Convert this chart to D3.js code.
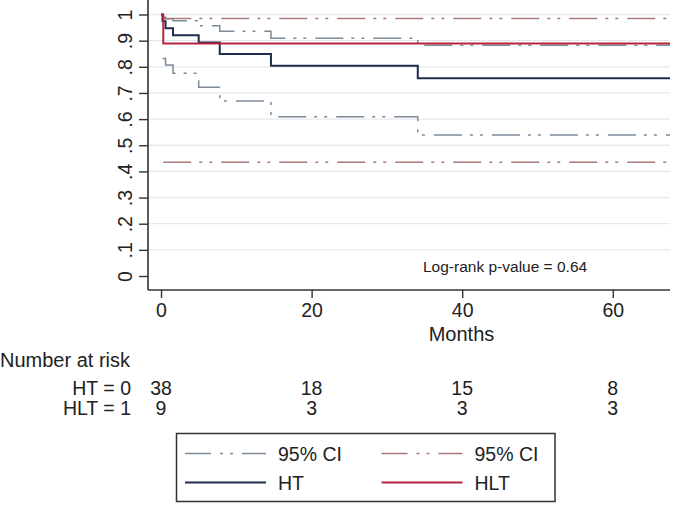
<!DOCTYPE html>
<html>
<head>
<meta charset="utf-8">
<script src="https://cdn.jsdelivr.net/npm/d3@7"></script>
<style>
html,body{margin:0;padding:0;background:#fff;}
svg{display:block;font-family:"Liberation Sans",Arial,Helvetica,sans-serif;}
</style>
</head>
<body>
<svg id="chart" width="677" height="507"></svg>
<script>
// ---- data ----
const htTimes   = [0, 0.2, 0.6, 1.6, 5.0, 7.8, 14.6, 34.1, 67.6];
const htSurv    = [1, 0.974, 0.947, 0.921, 0.893, 0.849, 0.804, 0.756, 0.756];
const htCiTimes = [0.2, 0.6, 1.6, 5.0, 7.8, 14.6, 34.1, 67.6];
const htUpper   = [0.990, 0.984, 0.976, 0.957, 0.936, 0.909, 0.882, 0.882];
const htLower   = [0.832, 0.807, 0.775, 0.722, 0.669, 0.609, 0.539, 0.539];

const hltTimes   = [0, 0.3, 67.6];
const hltSurv    = [1, 0.889, 0.889];
const hltCiTimes = [0.3, 67.6];
const hltUpper   = [0.985, 0.985];
const hltLower   = [0.435, 0.435];

const xTicks = [0, 20, 40, 60];
const yTicks = [0, 0.1, 0.2, 0.3, 0.4, 0.5, 0.6, 0.7, 0.8, 0.9, 1];
const yTickLabels = ["0", ".1", ".2", ".3", ".4", ".5", ".6", ".7", ".8", ".9", "1"];
const riskGroups = ["HT = 0", "HLT = 1"];
const riskHT  = [38, 18, 15, 8];
const riskHLT = [9, 3, 3, 3];
const legendLabels = ["95% CI", "95% CI", "HT", "HLT"];
const pValueText = "Log-rank p-value = 0.64";

// ---- layout ----
const svg = d3.select("#chart");
const pLeft = 148, pRight = 670, pTop = 0, pBottom = 290;
const x = d3.scaleLinear().domain([-1.73, 67.6]).range([pLeft, pRight]);
const y = d3.scaleLinear().domain([-0.0535, 1.0555]).range([pBottom, pTop]);

const colHT = "#1d2d4d", colHLT = "#b8243c", colHTci = "#7b8a99", colHLTci = "#a97a7c";
const dash = "28,8,3,7,3,9";

// gridlines
svg.append("g").selectAll("line").data(yTicks.filter(d => d > 0)).join("line")
  .attr("x1", pLeft).attr("x2", pRight)
  .attr("y1", d => y(d)).attr("y2", d => y(d))
  .attr("stroke", "#e6e9ec").attr("stroke-width", 1.3);

// axes
const yAxis = d3.axisLeft(y).tickValues(yTicks).tickSize(9).tickFormat((d, i) => yTickLabels[i]);
const gy = svg.append("g").attr("transform", `translate(${pLeft},0)`).call(yAxis);
gy.select(".domain").attr("d", `M0,${pTop}V${pBottom}`).attr("stroke", "#333").attr("stroke-width", 1.6);
gy.selectAll(".tick line").attr("stroke", "#333").attr("stroke-width", 1.4);
gy.selectAll(".tick text").attr("font-size", 19.5).attr("fill", "#222")
  .attr("text-anchor", "middle").attr("x", null).attr("dy", null)
  .attr("transform", "translate(-16,0) rotate(-90)");

const xAxis = d3.axisBottom(x).tickValues(xTicks).tickSize(8).tickFormat(d3.format("d"));
const gx = svg.append("g").attr("transform", `translate(0,${pBottom})`).call(xAxis);
gx.select(".domain").attr("d", `M${pLeft},0H${pRight}`).attr("stroke", "#333").attr("stroke-width", 1.6);
gx.selectAll(".tick line").attr("stroke", "#333").attr("stroke-width", 1.4);
gx.selectAll(".tick text").attr("font-size", 19.5).attr("fill", "#222").attr("y", 13).attr("dy", "0.71em");

// lines
const step = d3.line().x(d => x(d[0])).y(d => y(d[1])).curve(d3.curveStepAfter);
const zip = (a, b) => a.map((t, i) => [t, b[i]]);
function draw(data, color, width, dashed) {
  const p = svg.append("path").datum(data).attr("d", step)
    .attr("fill", "none").attr("stroke", color).attr("stroke-width", width);
  if (dashed) p.attr("stroke-dasharray", dash);
}
draw(zip(htCiTimes, htUpper), colHTci, 1.5, true);
draw(zip(htCiTimes, htLower), colHTci, 1.5, true);
draw(zip(hltCiTimes, hltUpper), colHLTci, 1.5, true);
draw(zip(hltCiTimes, hltLower), colHLTci, 1.5, true);
draw(zip(htTimes, htSurv), colHT, 2, false);
draw(zip(hltTimes, hltSurv), colHLT, 2, false);

// p-value
svg.append("text").attr("x", 423).attr("y", 272).attr("font-size", 15.5).attr("fill", "#222").text(pValueText);

// x title
svg.append("text").attr("x", 461.5).attr("y", 341).attr("text-anchor", "middle")
  .attr("font-size", 20).attr("fill", "#222").text("Months");

// number at risk
svg.append("text").attr("x", 0).attr("y", 366.5).attr("font-size", 20).attr("fill", "#222").text("Number at risk");
const riskRows = [riskHT, riskHLT];
riskRows.forEach((row, r) => {
  const yy = 395 + r * 20;
  svg.append("text").attr("x", 131).attr("y", yy).attr("text-anchor", "end")
    .attr("font-size", 19.5).attr("fill", "#222").text(riskGroups[r]);
  svg.append("g").selectAll("text").data(row).join("text")
    .attr("x", (d, i) => x(xTicks[i])).attr("y", yy).attr("text-anchor", "middle")
    .attr("font-size", 19.5).attr("fill", "#222").text(d => d);
});

// legend
const lg = svg.append("g");
lg.append("rect").attr("x", 176.5).attr("y", 433.5).attr("width", 378.5).attr("height", 68)
  .attr("fill", "#fff").attr("stroke", "#333").attr("stroke-width", 1.5);
const legendItems = [
  {col: 0, row: 0, color: colHTci, dashed: true},
  {col: 1, row: 0, color: colHLTci, dashed: true},
  {col: 0, row: 1, color: colHT, dashed: false},
  {col: 1, row: 1, color: colHLT, dashed: false}
];
legendItems.forEach((it, i) => {
  const sx = it.col === 0 ? 185 : 381.5;
  const sy = it.row === 0 ? 453.5 : 482.5;
  const l = lg.append("line").attr("x1", sx).attr("x2", sx + 81).attr("y1", sy).attr("y2", sy)
    .attr("stroke", it.color).attr("stroke-width", it.dashed ? 1.5 : 2);
  if (it.dashed) l.attr("stroke-dasharray", "26,9,3,7,3,9");
  lg.append("text").attr("x", sx + 93).attr("y", sy + 7.5).attr("font-size", 19.5).attr("fill", "#222")
    .text(legendLabels[i]);
});
</script>
</body>
</html>
